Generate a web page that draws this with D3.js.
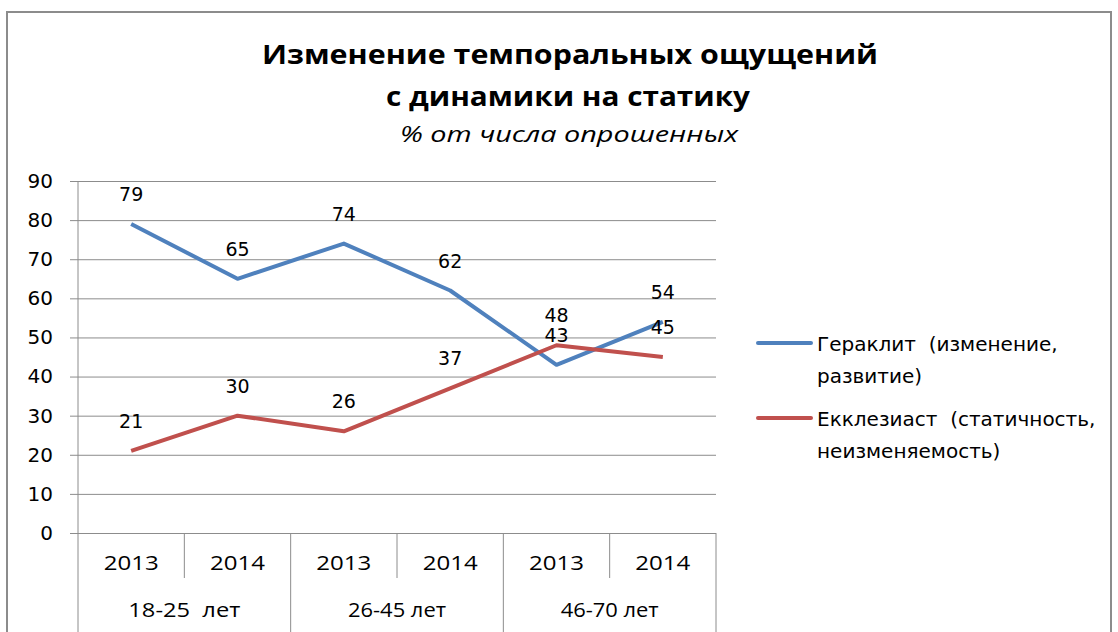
<!DOCTYPE html>
<html>
<head>
<meta charset="utf-8">
<script src="https://cdn.jsdelivr.net/npm/d3@7"></script>
<style>
  body { margin: 0; background: #fff; }
  svg { display: block; }
</style>
</head>
<body>
<svg id="chart"></svg>
<script>
const years = ['2013', '2014', '2013', '2014', '2013', '2014'];
const groups = ['18-25  лет', '26-45 лет', '46-70 лет'];
const heraclitus = [79, 65, 74, 62, 43, 54];
const ecclesiastes = [21, 30, 26, 37, 48, 45];
const yTicks = [0, 10, 20, 30, 40, 50, 60, 70, 80, 90];
const seriesNames = [
    ['Гераклит  (изменение,', 'развитие)'],
    ['Екклезиаст  (статичность,', 'неизменяемость)']
];
const seriesColors = ['#4F81BD', '#C0504D'];

const width = 1118, height = 632;
const svg = d3.select('#chart').attr('width', width).attr('height', height);

// outer chart frame
svg.append('rect')
    .attr('x', 7).attr('y', 12)
    .attr('width', 1104).attr('height', 640)
    .attr('fill', 'none').attr('stroke', '#8c8c8c').attr('stroke-width', 2);

// titles
svg.append('text').text('Изменение темпоральных ощущений')
    .attr('x', 570).attr('y', 64)
    .attr('text-anchor', 'middle')
    .attr('font-family', 'Open Sans').attr('font-weight', 'bold')
    .attr('font-size', 27).attr('textLength', 616).attr('lengthAdjust', 'spacingAndGlyphs');
svg.append('text').text('с динамики на статику')
    .attr('x', 568).attr('y', 106)
    .attr('text-anchor', 'middle')
    .attr('font-family', 'Open Sans').attr('font-weight', 'bold')
    .attr('font-size', 27).attr('textLength', 364).attr('lengthAdjust', 'spacingAndGlyphs');
svg.append('text').text('% от числа опрошенных')
    .attr('x', 569).attr('y', 142)
    .attr('text-anchor', 'middle')
    .attr('font-family', 'Open Sans').attr('font-style', 'italic')
    .attr('font-size', 22).attr('textLength', 338).attr('lengthAdjust', 'spacingAndGlyphs');

const plotLeft = 78, plotRight = 716, plotTop = 181, plotBottom = 533;

const x = d3.scaleBand()
    .domain(d3.range(years.length))
    .range([plotLeft, plotRight]);

const y = d3.scaleLinear()
    .domain([0, 90])
    .range([plotBottom, plotTop]);

const g = svg.append('g');

// horizontal gridlines + y axis
const yAxis = d3.axisLeft(y)
    .tickValues(yTicks)
    .tickSize(-(plotRight - plotLeft + 8))
    .tickPadding(17);

const yAxisGroup = g.append('g')
    .attr('transform', `translate(${plotLeft - 8},0)`)
    .call(yAxis);
yAxisGroup.select('.domain').remove();
yAxisGroup.selectAll('.tick line')
    .attr('stroke', '#8c8c8c');
yAxisGroup.selectAll('.tick text')
    .attr('font-family', 'DejaVu Sans')
    .attr('font-size', 20)
    .attr('fill', '#000');

// vertical axis line
g.append('line')
    .attr('x1', plotLeft).attr('x2', plotLeft)
    .attr('y1', plotTop).attr('y2', plotBottom)
    .attr('stroke', '#8c8c8c');

// category separators (years)
const yearEdges = d3.range(years.length + 1).map(i => i < years.length ? x(i) : x(years.length - 1) + x.bandwidth());
g.selectAll('.yearSep').data(yearEdges)
    .enter().append('line')
    .attr('class', 'yearSep')
    .attr('x1', d => d).attr('x2', d => d)
    .attr('y1', plotBottom)
    .attr('y2', (d, i) => i % 2 === 0 ? 632 : 578)
    .attr('stroke', '#8c8c8c');

g.selectAll('.yearLabel').data(years)
    .enter().append('text')
    .attr('class', 'yearLabel')
    .text(d => d)
    .attr('x', (d, i) => x(i) + x.bandwidth() / 2)
    .attr('y', 570)
    .attr('text-anchor', 'middle')
    .attr('font-family', 'Open Sans')
    .attr('font-size', 20)
    .attr('textLength', 55).attr('lengthAdjust', 'spacingAndGlyphs');

g.selectAll('.groupLabel').data(groups)
    .enter().append('text')
    .attr('class', 'groupLabel')
    .text(d => d)
    .attr('x', (d, i) => x(i * 2) + x.bandwidth())
    .attr('y', 617)
    .attr('text-anchor', 'middle')
    .attr('font-family', 'Open Sans')
    .attr('font-size', 20)
    .attr('textLength', (d, i) => i === 0 ? 112 : 98).attr('lengthAdjust', 'spacingAndGlyphs')
    .style('white-space', 'pre');

// lines
const line = d3.line()
    .x((d, i) => x(i) + x.bandwidth() / 2)
    .y(d => y(d));

const series = [heraclitus, ecclesiastes];

g.selectAll('.series').data(series)
    .enter().append('path')
    .attr('class', 'series')
    .attr('d', d => line(d))
    .attr('fill', 'none')
    .attr('stroke', (d, i) => seriesColors[i])
    .attr('stroke-width', 4)
    .attr('stroke-linejoin', 'round');

// data labels, above each point
series.forEach(s => {
    g.selectAll(null).data(s)
        .enter().append('text')
        .text(d => d)
        .attr('x', (d, i) => x(i) + x.bandwidth() / 2)
        .attr('y', d => y(d) - 23)
        .attr('text-anchor', 'middle')
        .attr('font-family', 'DejaVu Sans')
        .attr('font-size', 19)
        .attr('fill', '#000');
});

// legend
const legend = svg.append('g');
const legendY = [343, 418];
seriesNames.forEach((lines, i) => {
    legend.append('line')
        .attr('x1', 758).attr('x2', 811)
        .attr('y1', legendY[i]).attr('y2', legendY[i])
        .attr('stroke', seriesColors[i])
        .attr('stroke-width', 4)
        .attr('stroke-linecap', 'round');
    lines.forEach((t, j) => {
        legend.append('text').text(t)
            .attr('x', 817)
            .attr('y', legendY[i] + 8 + j * 32)
            .attr('font-family', 'DejaVu Sans')
            .attr('font-size', 20)
            .attr('fill', '#000')
            .style('white-space', 'pre');
    });
});
</script>
</body>
</html>
